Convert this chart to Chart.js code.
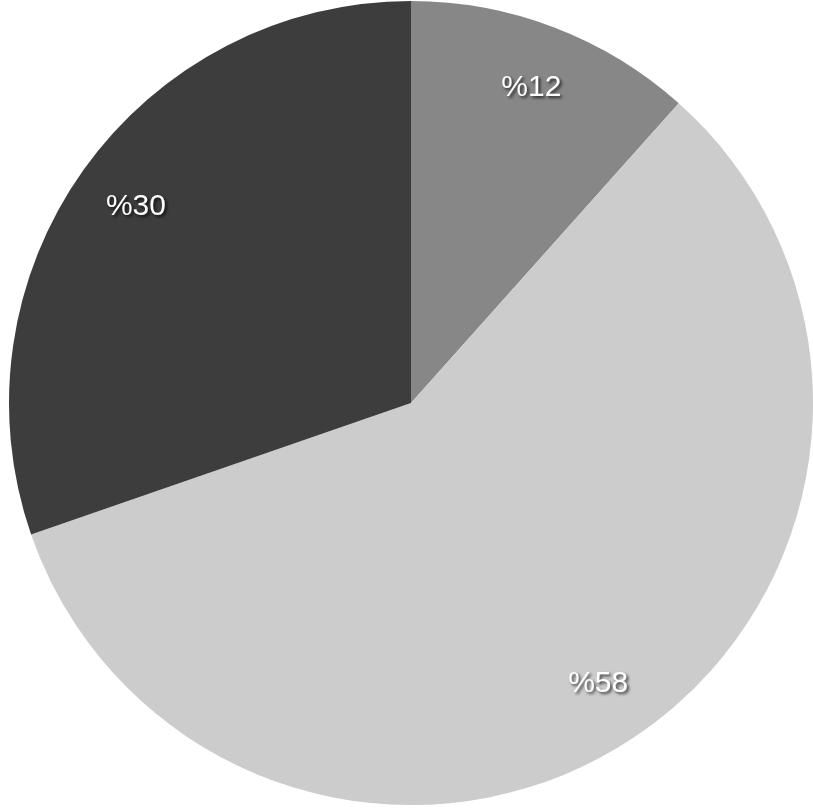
<!DOCTYPE html>
<html>
<head>
<meta charset="utf-8">
<script src="https://cdn.jsdelivr.net/npm/chart.js@4/dist/chart.umd.min.js"></script>
<style>
  html, body { margin: 0; padding: 0; background: #fff; }
  #wrap { width: 813px; height: 809px; }
</style>
</head>
<body>
<div id="wrap"><canvas id="pie-chart"></canvas></div>
<script>
// slice data, clockwise from the top
const shares = [11.6, 58.1, 30.3];
const labels = ['%12', '%58', '%30'];
const colors = ['#878787', '#cccccc', '#3d3d3d'];

// draws the percentage text inside each slice
const sliceLabels = {
    id: 'sliceLabels',
    afterDatasetsDraw(chart) {
        const ctx = chart.ctx;
        const arcs = chart.getDatasetMeta(0).data;
        ctx.save();
        ctx.font = '30px "Liberation Sans", Helvetica, Arial, sans-serif';
        ctx.textAlign = 'center';
        ctx.textBaseline = 'middle';
        ctx.fillStyle = '#ffffff';
        ctx.shadowColor = 'rgba(0,0,0,0.7)';
        ctx.shadowOffsetX = 2;
        ctx.shadowOffsetY = 2;
        ctx.shadowBlur = 3;
        arcs.forEach(function (arc, i) {
            const p = arc.getProps(['x', 'y', 'startAngle', 'endAngle', 'outerRadius'], true);
            const mid = (p.startAngle + p.endAngle) / 2;
            const r = p.outerRadius * 0.84;
            ctx.fillText(labels[i], p.x + Math.cos(mid) * r, p.y + Math.sin(mid) * r);
        });
        ctx.restore();
    }
};

const ctx = document.getElementById('pie-chart').getContext('2d');

const pie = new Chart(ctx, {
    type: 'pie',
    data: {
        labels: labels,
        datasets: [{
            data: shares,
            backgroundColor: colors,
            borderWidth: 0
        }]
    },
    options: {
        responsive: true,
        maintainAspectRatio: false,
        animation: false,
        layout: { padding: { left: 9, right: 0, top: 0, bottom: 3 } },
        plugins: {
            legend: { display: false },
            tooltip: { enabled: false }
        }
    },
    plugins: [sliceLabels]
});
</script>
</body>
</html>
